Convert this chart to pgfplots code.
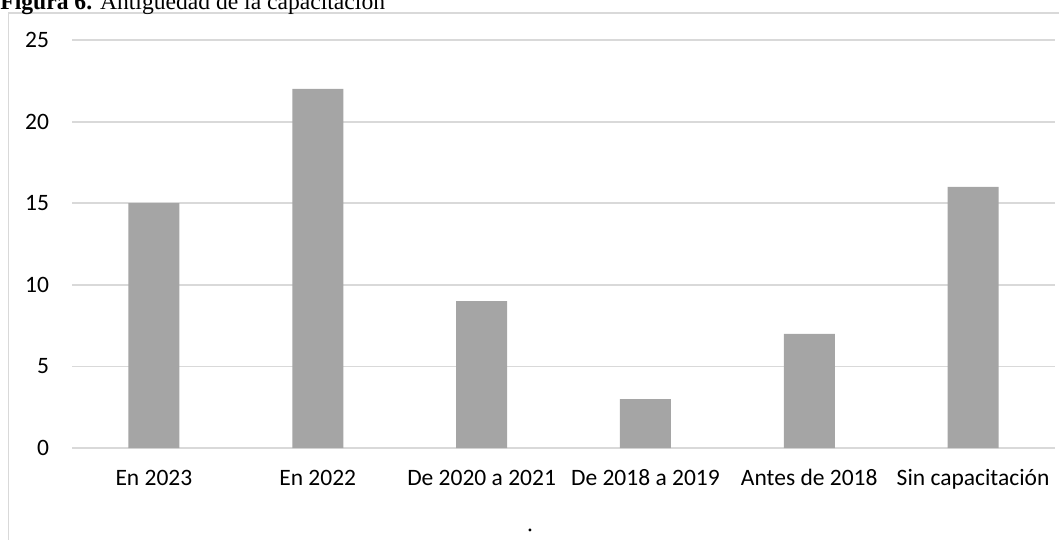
\documentclass[border=0pt]{standalone}
\usepackage{fontspec}
\setmainfont{Carlito}
\newfontfamily\tnr{Liberation Serif}
\usepackage{pgfplots}
\pgfplotsset{compat=1.18}
\definecolor{gridc}{HTML}{D9D9D9}
\definecolor{barc}{HTML}{A5A5A5}
\begin{document}
\begin{tikzpicture}
\path[use as bounding box] (0,0) rectangle (529.5pt,-270pt);
\draw[gridc, line width=0.9pt] (4.25pt,-280pt) -- (4.25pt,-6.7pt) -- (540pt,-6.7pt);
\node[anchor=base west, inner sep=0pt, font=\tnr\fontsize{11.8pt}{14pt}\selectfont] at (0pt,-4.6pt) {\textbf{Figura 6.} Antigüedad de la capacitación};
\node[inner sep=0pt, font=\tnr\fontsize{11.8pt}{14pt}\selectfont] at (265pt,-265pt) {.};
\begin{axis}[
  at={(36pt,-224pt)}, anchor=south west,
  scale only axis,
  width=491.5pt, height=204pt,
  ymin=0, ymax=25,
  xmin=-0.5, xmax=5.5,
  ytick={0,5,10,15,20,25},
  xtick={0,1,2,3,4,5},
  xticklabels={En 2023,En 2022,De 2020 a 2021,De 2018 a 2019,Antes de 2018,Sin capacitación},
  axis line style={draw=none},
  axis x line*=bottom,
  major tick length=0pt,
  ymajorgrids,
  grid style={gridc, line width=0.9pt},
  extra y ticks={0},
  extra y tick labels={},
  extra y tick style={grid style={gridc, line width=0.9pt}},
  tick label style={font=\fontsize{11.75pt}{14pt}\selectfont, text=black},
  /pgf/number format/assume math mode=true,
  yticklabel style={xshift=-8pt},
  xticklabel style={anchor=base, yshift=-18.5pt},
  ybar, bar width=25.5pt,
  clip=false,
]
\addplot[fill=barc, draw=none] coordinates {(0,15) (1,22) (2,9) (3,3) (4,7) (5,16)};
\end{axis}
\end{tikzpicture}
\end{document}
